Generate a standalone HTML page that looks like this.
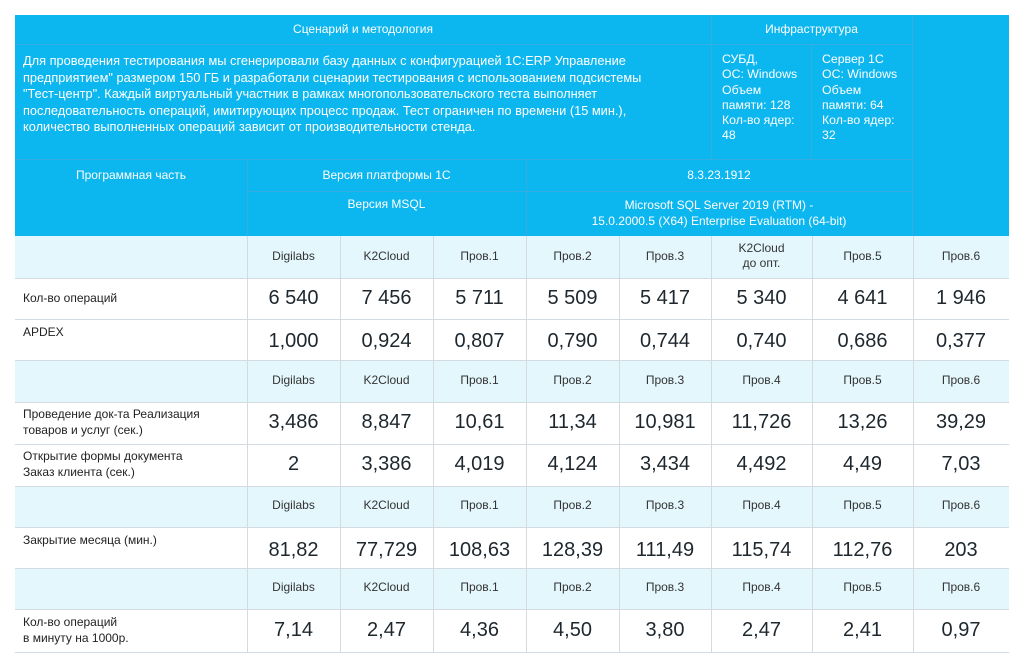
<!DOCTYPE html>
<html><head><meta charset="utf-8">
<style>
body{margin:0;width:1024px;height:666px;background:#fff;position:relative;overflow:hidden;font-family:"Liberation Sans","DejaVu Sans",sans-serif}
.a{position:absolute;box-sizing:border-box}
.blue{background:#0cb6ef}
.w{color:#fff;font-size:12px;text-align:center}
.hl{position:absolute;height:1px;background:#35ade0}
.vl{position:absolute;width:1px;background:#35ade0}
.gh{position:absolute;height:1px;background:#d3dbe0}
.gv{position:absolute;width:1px;background:#d3dbe0}
.lt{background:#e4f7fd}
.hdr{font-size:12px;color:#333;text-align:center;line-height:15px}
.num{font-size:20px;color:#1e272d;text-align:center}
.lab{font-size:12px;color:#222;line-height:16px}
</style></head><body>
<div class="a blue" style="left:15px;top:15px;width:994px;height:221px"></div>
<div class="hl" style="left:15px;top:44px;width:897px"></div>
<div class="hl" style="left:15px;top:159px;width:897px"></div>
<div class="hl" style="left:247px;top:191px;width:665px"></div>
<div class="vl" style="left:711px;top:15px;height:144px"></div>
<div class="vl" style="left:811px;top:44px;height:115px"></div>
<div class="vl" style="left:912px;top:15px;height:221px"></div>
<div class="vl" style="left:247px;top:159px;height:77px"></div>
<div class="vl" style="left:526px;top:159px;height:77px"></div>
<div class="a w" style="left:15px;top:22px;width:696px">Сценарий и методология</div>
<div class="a w" style="left:711px;top:22px;width:201px">Инфраструктура</div>
<div class="a" style="left:23px;top:53px;width:685px;color:#fff;font-size:12.8px;line-height:16.6px">Для проведения тестирования мы сгенерировали базу данных с конфигурацией 1С:ERP Управление<br>предприятием" размером 150 ГБ и разработали сценарии тестирования с использованием подсистемы<br>"Тест-центр". Каждый виртуальный участник в рамках многопользовательского теста выполняет<br>последовательность операций, имитирующих процесс продаж. Тест ограничен по времени (15 мин.),<br>количество выполненных операций зависит от производительности стенда.</div>
<div class="a" style="left:722px;top:52px;width:88px;color:#fff;font-size:12.3px;line-height:15.3px">СУБД,<br>ОС: Windows<br>Объем<br>памяти: 128<br>Кол-во ядер:<br>48</div>
<div class="a" style="left:822px;top:52px;width:88px;color:#fff;font-size:12.3px;line-height:15.3px">Сервер 1С<br>ОС: Windows<br>Объем<br>памяти: 64<br>Кол-во ядер:<br>32</div>
<div class="a w" style="left:15px;top:168px;width:232px">Программная часть</div>
<div class="a w" style="left:247px;top:168px;width:279px">Версия платформы 1С</div>
<div class="a w" style="left:526px;top:168px;width:386px">8.3.23.1912</div>
<div class="a w" style="left:247px;top:197px;width:279px">Версия MSQL</div>
<div class="a w" style="left:526px;top:197px;width:386px;line-height:16px">Microsoft SQL Server 2019 (RTM) -<br>15.0.2000.5 (X64) Enterprise Evaluation (64-bit)</div>
<div id="grid"></div>
<script>
const colX=[15,247,340,433,526,619,711,812,913,1009];
const rowY=[236,278,319,360,402,444,486,527,568,609,652];
const rowTypes=["h","d","d","h","d","d","h","d","h","d"];
const headers1=["Digilabs","K2Cloud","Пров.1","Пров.2","Пров.3","K2Cloud<br>до опт.","Пров.5","Пров.6"];
const headers2=["Digilabs","K2Cloud","Пров.1","Пров.2","Пров.3","Пров.4","Пров.5","Пров.6"];
const labels=["Кол-во операций","APDEX","Проведение док-та Реализация<br>товаров и услуг (сек.)","Открытие формы документа<br>Заказ клиента (сек.)","Закрытие месяца (мин.)","Кол-во операций<br>в минуту на 1000р."];
const opsCount=["6 540","7 456","5 711","5 509","5 417","5 340","4 641","1 946"];
const apdex=["1,000","0,924","0,807","0,790","0,744","0,740","0,686","0,377"];
const postingSec=["3,486","8,847","10,61","11,34","10,981","11,726","13,26","39,29"];
const openFormSec=["2","3,386","4,019","4,124","3,434","4,492","4,49","7,03"];
const monthCloseMin=["81,82","77,729","108,63","128,39","111,49","115,74","112,76","203"];
const opsPer1000=["7,14","2,47","4,36","4,50","3,80","2,47","2,41","0,97"];
const dataRows=[opsCount,apdex,postingSec,openFormSec,monthCloseMin,opsPer1000];
const labelTop=[0,1,0,0,1,0];
const numOff=[0,2,0,0,3,0];
const g=document.getElementById('grid');
function mk(cls,st,html){const d=document.createElement('div');d.className=cls;d.style.cssText=st;if(html!==undefined)d.innerHTML=html;g.appendChild(d);return d;}
let di=0,hi=0;
for(let r=0;r<rowTypes.length;r++){
  const y0=rowY[r],h=rowY[r+1]-y0;
  if(rowTypes[r]==="h"){
    const bg=mk('a lt',`left:15px;top:${y0}px;width:994px;height:${h}px`);
    
    
    const hs=hi===0?headers1:headers2;hi++;
    for(let c=0;c<8;c++){
      const lines=hs[c].indexOf('<br>')>=0?2:1;
      const el=mk('a hdr',`left:${colX[c+1]}px;top:${y0+h/2-lines*7.5-1}px;width:${colX[c+2]-colX[c+1]}px`,hs[c]);
      
      
    }
  } else {
    const lab=labels[di];const lines=lab.indexOf('<br>')>=0?2:1;
    const ty=labelTop[di]?y0+5:y0+h/2-lines*8-1;
    const le=mk('a lab',`left:23px;top:${ty}px;width:220px`,lab);
    
    
    const vals=dataRows[di];
    for(let c=0;c<8;c++){
      const ne=mk('a num',`left:${colX[c+1]}px;top:${y0+h/2-12+numOff[di]}px;width:${colX[c+2]-colX[c+1]}px`,vals[c]);
      
      
    }
    di++;
  }
}
for(let r=1;r<rowY.length;r++){mk('gh',`left:15px;top:${rowY[r]}px;width:994px`);}
for(let c=1;c<colX.length-1;c++){mk('gv',`left:${colX[c]}px;top:236px;height:416px`);}
</script>
</body></html>
